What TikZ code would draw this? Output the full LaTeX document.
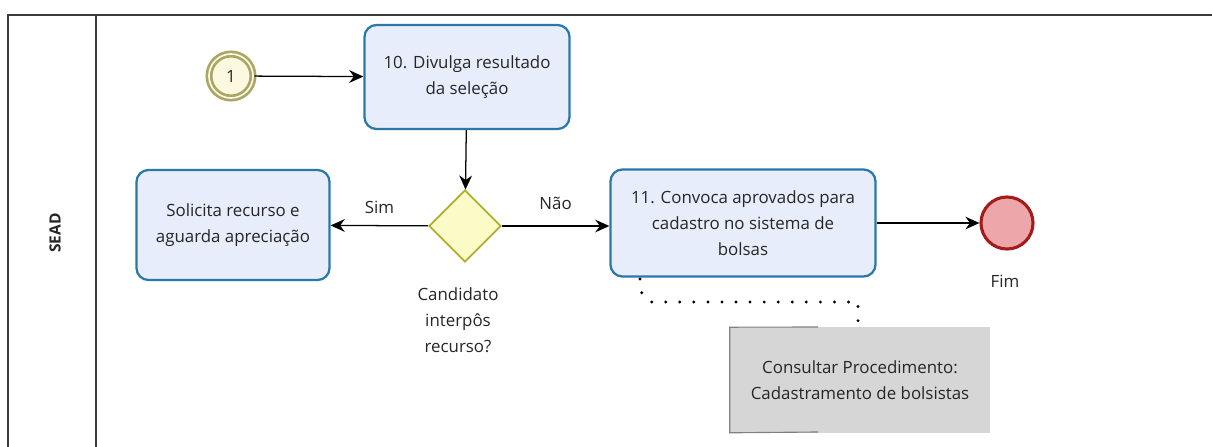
\documentclass[tikz,border=0pt]{standalone}
\usepackage{fontspec}
\setmainfont{Open Sans}
\usetikzlibrary{arrows.meta,shapes.geometric}
\definecolor{taskfill}{HTML}{E8EDFB}
\definecolor{taskline}{HTML}{2A78A8}
\definecolor{gatefill}{HTML}{FBFBC8}
\definecolor{gateline}{HTML}{AFAF2E}
\definecolor{startfill}{HTML}{FDF8E0}
\definecolor{startline}{HTML}{A9A666}
\definecolor{endfill}{HTML}{EDA6A9}
\definecolor{endline}{HTML}{A31B1B}
\definecolor{poolline}{HTML}{3A3A3A}
\definecolor{notefill}{HTML}{D6D6D6}

\begin{document}
\begin{tikzpicture}[x=0.025cm, y=-0.025cm, font=\fontsize{12}{18.5}\selectfont, text=black!85,
		task/.style={draw=taskline, fill=taskfill, line width=1.6pt, rounded corners=0.3cm, align=center},
		gate/.style={draw=gateline, fill=gatefill, line width=1.3pt, diamond, minimum size=1.8cm, inner sep=0pt},
		flow/.style={-{Stealth[length=10pt,width=9pt]}, line width=0.9pt}]
			\useasboundingbox (0,0) rectangle (1212,447);
			% pool and lane
			\draw[poolline, line width=1.2pt] (8,447) -- (8,15) -- (1212,15);
			\draw[poolline, line width=0.8pt] (96,15) -- (96,447);
			\node[rotate=90, font=\fontsize{11}{12}\selectfont\bfseries] (lane) at (55,233) {SEAD};

			\node[circle, draw=startline, fill=startfill, line width=1.9pt, double=startfill, double distance=1.2pt, minimum size=1.1cm, inner sep=0pt] (s) at (231,76) {1};
			\node[task, minimum width=5.125cm, minimum height=2.6cm]   (t10) at (467,77)  {10. Divulga resultado\\da seleção};
			\node[gate]                                                (g)   at (465,226) {};
			\node[task, minimum width=4.825cm, minimum height=2.75cm]  (rec) at (233,225) {Solicita recurso e\\aguarda apreciação};
			\node[task, minimum width=6.625cm, minimum height=2.675cm] (t11) at (743,223) {11. Convoca aprovados para\\cadastro no sistema de\\bolsas};
			\node[circle, draw=endline, fill=endfill, line width=2.2pt, minimum size=1.3cm] (f) at (1007,223) {};
			\node[fill=notefill, minimum width=6.5cm, minimum height=2.625cm, align=center] (nota) at (860,380) {Consultar Procedimento:\\Cadastramento de bolsistas};

			\node[align=center] (glabel) at (458,320) {Candidato\\interpôs\\recurso?};
			\node (flabel) at (1005,281) {Fim};

			\def\flows {s/t10/, t10/g/, t11/f/}  % plain sequence flows
			\foreach \u\v\lbl in \flows
			{	\draw[flow] (\u) -- (\v);
			}
			\draw[flow] (g) -- (rec) node [midway, above=5pt] {Sim};
			\draw[flow] (g) -- (g -| t11.west) node [midway, above=8pt] {Não};

			% annotation
			\draw[gray, line width=0.8pt] (818,327) -- (nota.north west) -- (nota.south west) -- (818,432);
			\coordinate (a0) at (640,279);
			\draw[line width=2.3pt, dash pattern=on 0pt off 10pt, line cap=round] (a0) -- (641,292) -- (650,302) -- (858,302) -- (858,322);
		\end{tikzpicture}
\end{document}
